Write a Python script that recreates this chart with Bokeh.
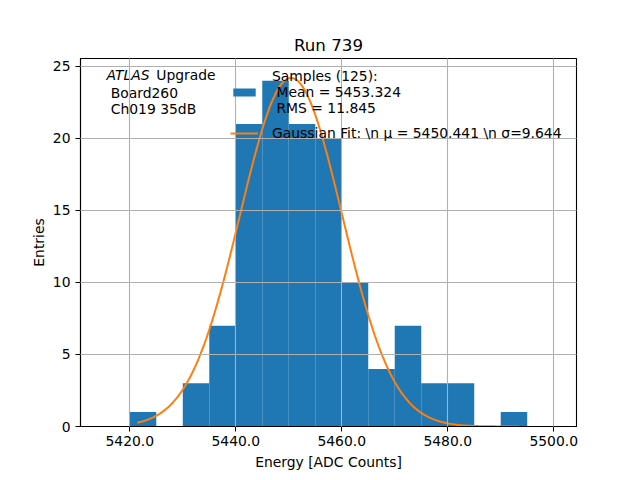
import numpy as np
from bokeh.plotting import figure
from bokeh.models import Range1d, Legend, LegendItem, Label, FixedTicker, PrintfTickFormatter
from bokeh.embed import file_html
from bokeh.resources import INLINE

# histogram bins (width 5 ADC counts) and entries per bin
bin_edges = [5420, 5425, 5430, 5435, 5440, 5445, 5450, 5455, 5460,
             5465, 5470, 5475, 5480, 5485, 5490, 5495]
entries = [1, 0, 3, 7, 21, 24, 21, 20, 10, 4, 7, 3, 3, 0, 1]

# gaussian fit parameters as quoted in the legend
fit_mu = 5450.441
fit_sigma = 9.644
fit_amp = 24.2
fit_xmin, fit_xmax = 5421.4, 5493.4

n_samples = 125
mean_val = 5453.324
rms_val = 11.845

FONT = "DejaVu Sans"
BLUE = "#1f77b4"
ORANGE = "#ff7f0e"

fx = np.linspace(fit_xmin, fit_xmax, 200)
fy = fit_amp * np.exp(-(fx - fit_mu) ** 2 / (2 * fit_sigma ** 2))

p = figure(width=632, height=472, output_backend="svg", toolbar_location=None,
           x_range=Range1d(5410.7, 5504.3), y_range=Range1d(0, 25.55),
           title="Run 739")
p.min_border_left = 80
p.min_border_right = 56
p.min_border_top = 58
p.min_border_bottom = 45
p.background_fill_color = "white"
p.border_fill_color = "white"
p.outline_line_color = "black"
p.outline_line_width = 1.1

p.title.text_font = FONT
p.title.text_font_size = "16.7px"
p.title.text_font_style = "normal"
p.title.text_color = "black"
p.title.align = "center"
p.title.standoff = 7

bars = p.quad(left=bin_edges[:-1], right=bin_edges[1:], top=entries, bottom=0,
              fill_color=BLUE, line_color=None)
fit = p.line(fx, fy, line_color=ORANGE, line_width=2)

for ax in (p.xaxis[0], p.yaxis[0]):
    ax.axis_line_color = "black"
    ax.axis_line_width = 1.1
    ax.major_tick_out = 5
    ax.major_tick_in = 0
    ax.major_tick_line_color = "black"
    ax.minor_tick_line_color = None
    ax.major_label_text_font = FONT
    ax.major_label_text_font_size = "13.9px"
    ax.major_label_text_color = "black"
    ax.axis_label_text_font = FONT
    ax.axis_label_text_font_size = "13.9px"
    ax.axis_label_text_font_style = "normal"
    ax.axis_label_text_color = "black"

p.xaxis.ticker = FixedTicker(ticks=[5420, 5440, 5460, 5480, 5500])
p.xaxis.formatter = PrintfTickFormatter(format="%.1f")
p.xaxis.axis_label = "Energy [ADC Counts]"
p.xaxis.major_label_standoff = 4
p.xaxis.axis_label_standoff = 5
p.yaxis.ticker = FixedTicker(ticks=[0, 5, 10, 15, 20, 25])
p.yaxis.axis_label = "Entries"
p.yaxis.major_label_standoff = 5
p.yaxis.axis_label_standoff = 3

for g in (p.xgrid[0], p.ygrid[0]):
    g.grid_line_color = "#b0b0b0"
    g.grid_line_width = 1.1
    g.level = "overlay"

samples_label = "Samples (%d):\n Mean = %.3f\n RMS = %.3f" % (n_samples, mean_val, rms_val)
fit_label = "Gaussian Fit: \\n \u03bc = %.3f \\n \u03c3=%.3f" % (fit_mu, fit_sigma)
legend = Legend(items=[LegendItem(label=samples_label, renderers=[bars]),
                       LegendItem(label=fit_label, renderers=[fit])],
                location=(150, 285), orientation="vertical",
                border_line_color=None, background_fill_alpha=0,
                label_text_font=FONT, label_text_font_size="13.9px",
                label_text_color="black",
                glyph_width=28, glyph_height=10, padding=0, margin=0,
                spacing=9, label_standoff=14, label_text_line_height=1.25)
p.add_layout(legend)

# experiment tag, top left
tag_style = dict(text_font=FONT, text_font_size="13.9px", text_baseline="middle",
                 text_color="black")
p.add_layout(Label(x=5415.6, y=24.38, text="ATLAS", text_font_style="italic", **tag_style))
p.add_layout(Label(x=5425.0, y=24.38, text="Upgrade", **tag_style))
p.add_layout(Label(x=5416.4, y=23.12, text="Board260", **tag_style))
p.add_layout(Label(x=5416.4, y=22.02, text="Ch019 35dB", **tag_style))

open("out.html", "w").write(file_html(p, INLINE))
